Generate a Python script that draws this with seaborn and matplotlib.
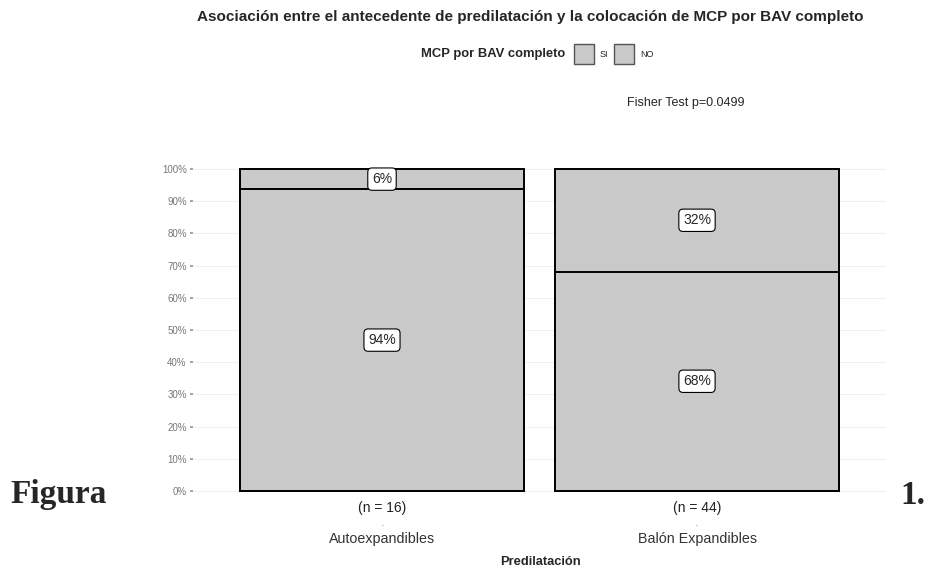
import matplotlib
matplotlib.use('Agg')
import numpy as np
import pandas as pd
import matplotlib.pyplot as plt
import matplotlib.patches as mpatches
import seaborn as sns

# Data
groups = ['Autoexpandibles', 'Balón Expandibles']
n_total = [16, 44]
si_counts = [1, 14]
no_counts = [15, 30]

si_pct = [100 * s / n for s, n in zip(si_counts, n_total)]
no_pct = [100 * s / n for s, n in zip(no_counts, n_total)]

df = pd.DataFrame({'grupo': groups, 'NO': no_pct, 'SI': si_pct})
df['total'] = df['NO'] + df['SI']

sns.set_theme(style='white')
plt.rcParams['font.family'] = ['Liberation Sans', 'DejaVu Sans']

fill = '#c9c9c9'
fig = plt.figure(figsize=(9.32, 5.72), dpi=100)
ax = fig.add_axes([193 / 932, 71.3 / 572, 693 / 932, 341.3 / 572])

# stacked bars: full bar (SI on top) then NO segment over it
sns.barplot(data=df, x='grupo', y='total', color=fill, width=0.9, saturation=1,
            edgecolor='black', linewidth=1.4, ax=ax)
sns.barplot(data=df, x='grupo', y='NO', color=fill, width=0.9, saturation=1,
            edgecolor='black', linewidth=1.4, ax=ax)

ax.set_ylim(-3, 103)
ax.set_xlim(-0.6, 1.6)
ax.set_yticks(np.arange(0, 101, 10))
ax.set_yticklabels([f'{v}%' for v in range(0, 101, 10)], fontsize=7, color='#777777')
ax.tick_params(axis='y', length=2.5, color='#999999', pad=2, left=True)
ax.grid(axis='y', color='#f0f0f0', linewidth=0.8)
ax.set_axisbelow(True)
for s in ax.spines.values():
    s.set_visible(False)

ax.set_xticks([0, 1])
ax.set_xticklabels(['', ''])
ax.tick_params(axis='x', length=0)
ax.set_xlabel('')
ax.set_ylabel('')

trans = matplotlib.transforms.blended_transform_factory(ax.transData, fig.transFigure)
for i, g in enumerate(groups):
    ax.text(i, 1 - 508 / 572, f'(n = {n_total[i]})', transform=trans, ha='center',
            va='center', fontsize=10, color='#222222')
    ax.text(i, 1 - 526 / 572, '\u00b7', transform=trans, ha='center', va='center',
            fontsize=8, color='#777777')
    ax.text(i, 1 - 539 / 572, g, transform=trans, ha='center', va='center',
            fontsize=10.3, color='#333333')

# percentage labels
box = dict(boxstyle='round,pad=0.3,rounding_size=0.3', fc='white', ec='black', lw=0.8)
for i in range(len(groups)):
    ax.text(i, no_pct[i] + si_pct[i] / 2, f'{si_pct[i]:.0f}%', ha='center', va='center',
            fontsize=10, bbox=box)
    ax.text(i, no_pct[i] / 2, f'{no_pct[i]:.0f}%', ha='center', va='center',
            fontsize=10, bbox=box)

fig.text(530 / 932, 1 - 17 / 572, 'Asociación entre el antecedente de predilatación y la colocación de MCP por BAV completo',
         ha='center', va='center', fontsize=11, fontweight='bold')
fig.text(565 / 932, 1 - 54 / 572, 'MCP por BAV completo', ha='right', va='center',
         fontsize=9.4, fontweight='bold')
handles = [mpatches.Patch(facecolor=fill, edgecolor='#555555', label='SI'),
           mpatches.Patch(facecolor=fill, edgecolor='#555555', label='NO')]
fig.legend(handles=handles, loc='center left', bbox_to_anchor=(569 / 932, 1 - 54 / 572),
           ncol=2, frameon=False, fontsize=6.5, handlelength=2.3, handleheight=2.9,
           handletextpad=0.6, columnspacing=0.6, borderpad=0)
fig.text(686 / 932, 1 - 103 / 572, 'Fisher Test p=0.0499', ha='center', va='center', fontsize=9)
fig.text(540 / 932, 1 - 562 / 572, 'Predilatación', ha='center', va='center',
         fontsize=9.3, fontweight='bold')

fig.text(10 / 932, 1 - 495 / 572, 'Figura', ha='left', va='center', fontsize=24,
         fontweight='bold', family=['Liberation Serif', 'DejaVu Serif'])
fig.text(900 / 932, 1 - 495 / 572, '1.', ha='left', va='center', fontsize=24,
         fontweight='bold', family=['Liberation Serif', 'DejaVu Serif'])

fig.savefig('out.png', dpi=100)
